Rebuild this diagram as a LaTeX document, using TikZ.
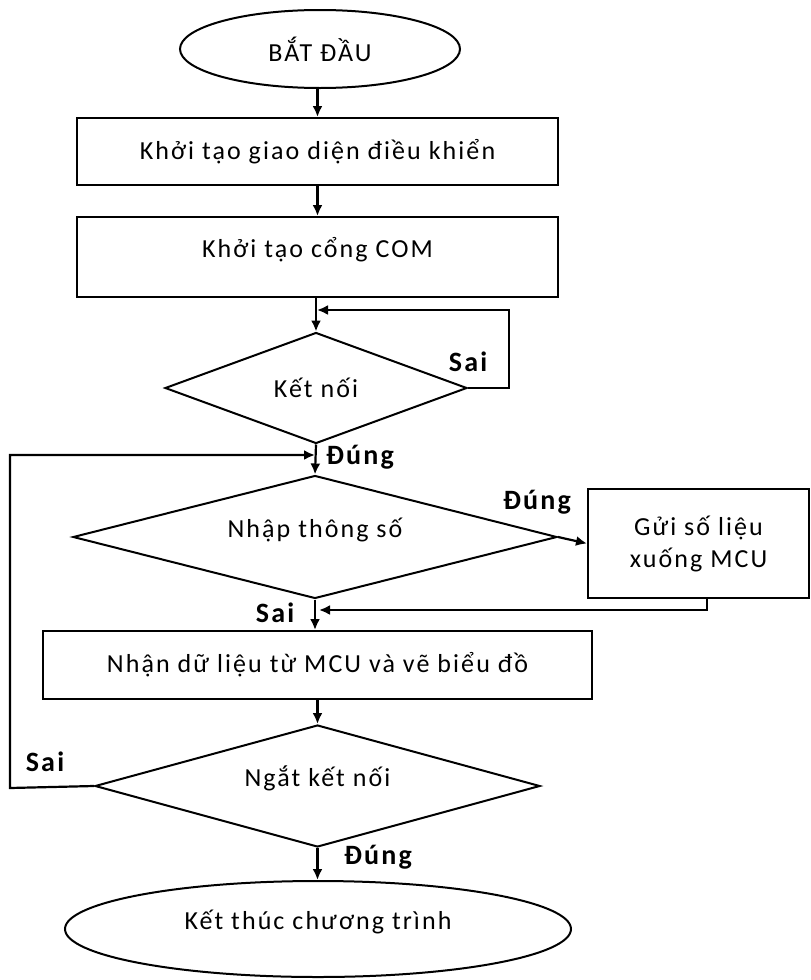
\documentclass[tikz,border=0pt]{standalone}
\usepackage{fontspec}
\setmainfont{Carlito}[LetterSpace=8]
\usetikzlibrary{shapes.geometric,arrows.meta}
\tikzset{
  base/.style={draw=black, line width=2pt, inner sep=0pt, align=center,
    font=\fontsize{26}{32}\selectfont},
  box/.style={base, rectangle},
  terminal/.style={base, ellipse},
  decision/.style={base, diamond},
  conn/.style={line width=2.2pt, -{Latex[length=11pt,width=10pt]}},
  lbl/.style={font=\fontsize{28}{30}\selectfont\bfseries, inner sep=0pt}
}
\newcommand{\uptext}[1]{\smash{#1}}
\begin{document}
\begin{tikzpicture}[x=1pt,y=-1pt]
\useasboundingbox (0,0) rectangle (811,980);
\node[terminal, minimum width=280pt, minimum height=78pt] (start) at (320,49) {BẮT ĐẦU};
\node[box, minimum width=481pt, minimum height=67pt] (b1) at (317.5,151.5) {Khởi tạo giao diện điều khiển};
\node[box, minimum width=481pt, minimum height=80pt] (b2) at (317.5,257) {\uptext{Khởi tạo cổng COM}};
\node[decision, shape aspect=2.7, minimum width=302pt, minimum height=111pt] (d1) at (316,388) {Kết nối};
\node[decision, shape aspect=3.9, minimum width=484pt, minimum height=123pt] (d2) at (315,537) {\uptext{Nhập thông số}};
\node[box, minimum width=221pt, minimum height=109pt] (send) at (698.5,543.5) {Gửi số liệu\\xuống MCU};
\node[box, minimum width=549pt, minimum height=68pt] (b3) at (317.5,665) {Nhận dữ liệu từ MCU và vẽ biểu đồ};
\node[decision, shape aspect=3.6, minimum width=445pt, minimum height=122pt] (d3) at (317.5,786) {\uptext{Ngắt kết nối}};
\node[terminal, minimum width=506pt, minimum height=96pt] (end) at (318,929) {\uptext{Kết thúc chương trình}};

\coordinate (j1) at (317,310);
\coordinate (j2) at (319,610);
\coordinate (j3) at (315,455);

\draw[conn] (start.south -| b1.north) -- (b1.north);
\draw[conn] (b1.south) -- (b2.north);
\draw[conn] (b2.south -| d1.north) -- (d1.north);
\draw[conn] (d1.east) -- (509,388) |- (j1);
\draw[conn] (d1.south) -- (d2.north);
\draw[conn] (d2.east) -- (send.west);
\draw[conn] (send.south -| 707,0) |- (j2);
\draw[conn] (d2.south) -- (d2.south |- b3.north);
\draw[conn] (b3.south -| d3.north) -- (d3.north);
\draw[conn] (d3.west) -- (10,788) |- (j3);
\draw[conn] (d3.south) -- (d3.south |- end.north);

\node[lbl] (l1) at (468,362) {Sai};
\node[lbl] (l2) at (360,457) {Đúng};
\node[lbl] (l3) at (537,502) {Đúng};
\node[lbl] (l4) at (275,613) {Sai};
\node[lbl] (l5) at (45,762) {Sai};
\node[lbl] (l6) at (378,857) {Đúng};
\end{tikzpicture}
\end{document}
